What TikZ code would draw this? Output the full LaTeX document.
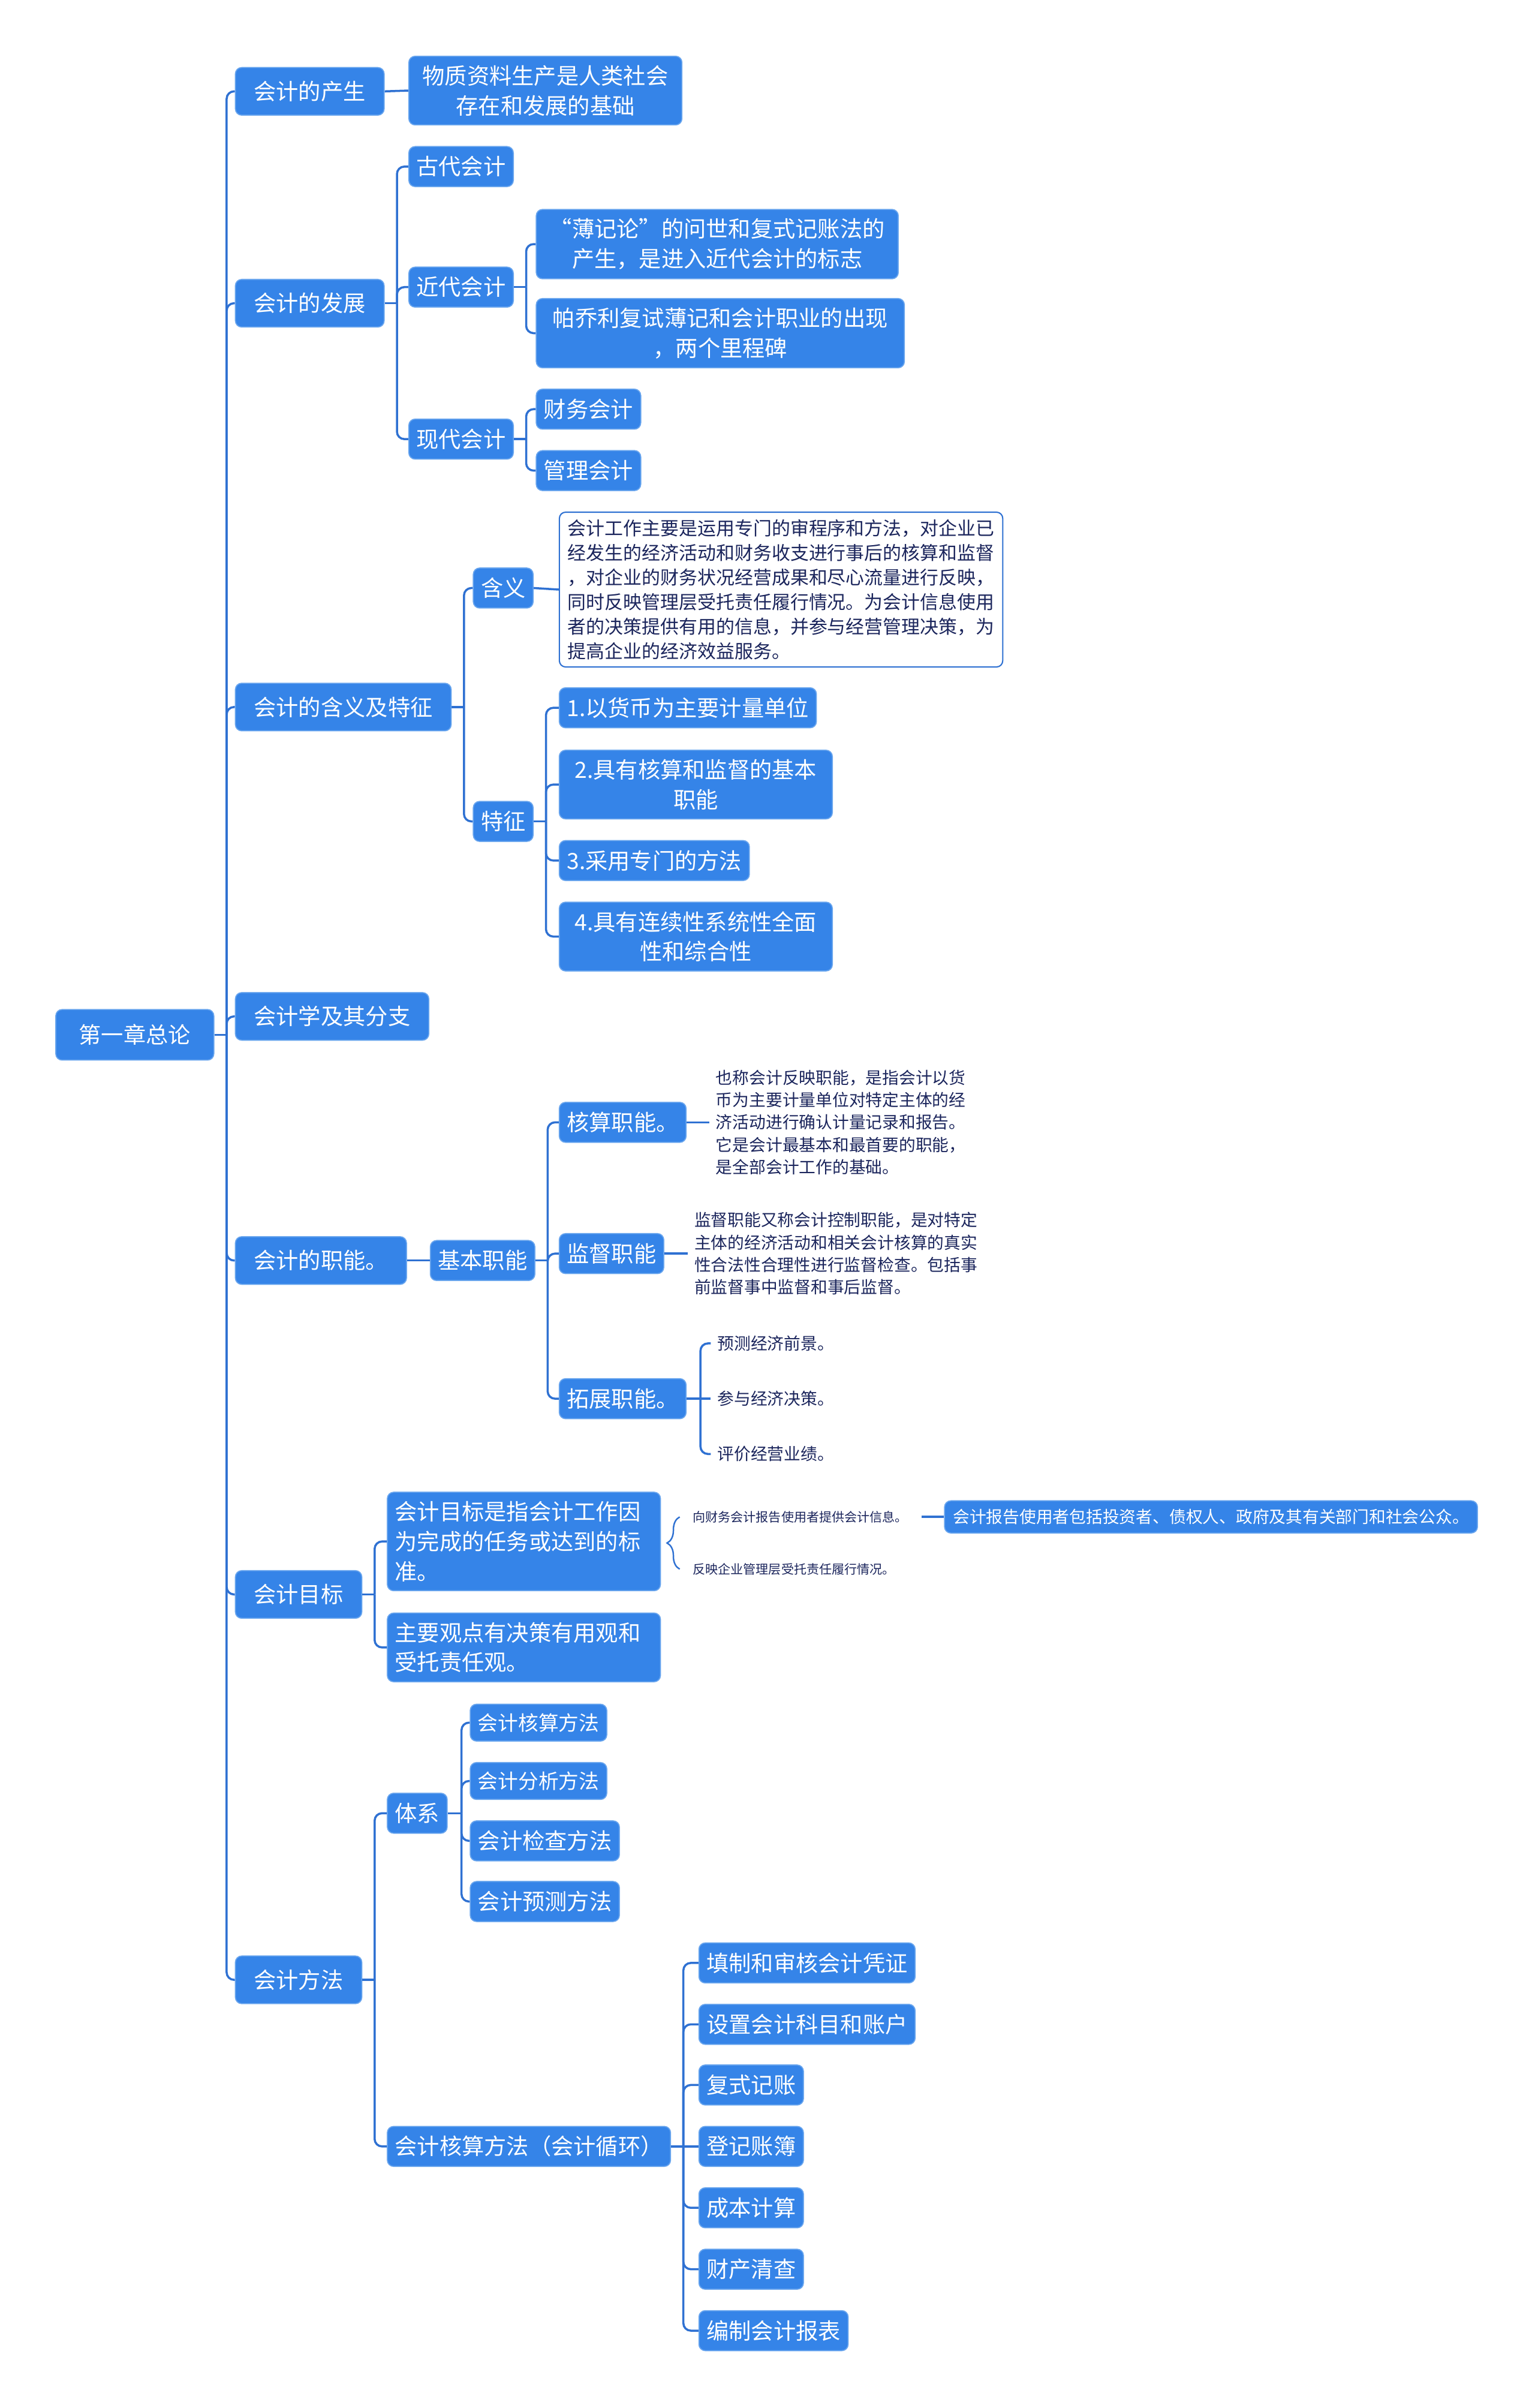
\documentclass[tikz,border=0pt]{standalone}
\usepackage{fontspec}
\setmainfont{Noto Sans CJK SC}
\usepackage{xcolor}
\usetikzlibrary{positioning,calc,decorations.pathreplacing}

\definecolor{boxblue}{HTML}{3584E8}
\definecolor{rimblue}{HTML}{6AA6EE}
\definecolor{linkblue}{HTML}{2F71D2}
\definecolor{inkblue}{HTML}{1B255C}

\begin{document}
\begin{tikzpicture}[
    x=0.256mm, y=-0.256mm,
    box/.style={
        draw=rimblue, line width=0.5pt, fill=boxblue, rounded corners=3pt,
        text=white, anchor=west, align=center, inner ysep=4.3pt,
        font=\fontsize{10.6}{14.2}\selectfont
    },
    root/.style={box, inner xsep=11pt, minimum height=24pt},
    topic/.style={box, inner xsep=8.8pt, minimum height=22.6pt},
    leaf/.style={box, inner xsep=3.6pt, minimum height=19pt},
    smallleaf/.style={leaf, minimum height=17.5pt, font=\fontsize{9.6}{12}\selectfont},
    report/.style={box, inner xsep=4pt, inner ysep=2pt, minimum height=15.3pt,
        font=\fontsize{7.9}{10}\selectfont},
    memo/.style={
        draw=linkblue, line width=0.6pt, fill=white, rounded corners=3pt,
        text=inkblue, anchor=west, align=left, inner xsep=4pt, inner ysep=3.5pt,
        font=\fontsize{8.8}{11.65}\selectfont
    },
    note/.style={
        anchor=west, inner xsep=3pt, inner ysep=1pt, text=inkblue, align=left,
        font=\fontsize{7.9}{10.6}\selectfont
    },
    tiny/.style={note, inner xsep=1.5pt, font=\fontsize{6}{7.5}\selectfont},
    link/.style={draw=linkblue, line width=1pt, rounded corners=3.5pt},
    curly/.style={draw=linkblue, line width=0.7pt, decorate,
        decoration={brace, amplitude=6pt}}
]
\useasboundingbox (0,0) rectangle (1000,1568.4);

% 根节点
\node[root] (zonglun) at (36,674) {第一章总论};

% 一级分支
\node[topic] (chansheng) at (153,59.5)   {会计的产生};
\node[topic] (fazhan)    at (153,197.5)  {会计的发展};
\node[topic] (hanyitz)   at (153,460.5)  {会计的含义及特征};
\node[topic] (fenzhi)    at (153,662)    {会计学及其分支};
\node[topic] (zhineng)   at (153,821)    {会计的职能。};
\node[topic] (mubiao)    at (153,1038.5) {会计目标};
\node[topic] (fangfa)    at (153,1289.5) {会计方法};

% 会计的产生
\node[leaf, text width=122.4pt] (jichu) at (266,59) {物质资料生产是人类社会\\存在和发展的基础};

% 会计的发展
\node[leaf] (gudai)   at (266,108.5) {古代会计};
\node[leaf] (jindai)  at (266,187)   {近代会计};
\node[leaf] (xiandai) at (266,286)   {现代会计};
\node[leaf, text width=164.6pt] (bujilun) at (349,159) {“薄记论”的问世和复式记账法的\\产生，是进入近代会计的标志};
\node[leaf, text width=167.5pt] (paqiaoli) at (349,217) {帕乔利复试薄记和会计职业的出现\\，两个里程碑};
\node[leaf] (caiwu)  at (349,266.5) {财务会计};
\node[leaf] (guanli) at (349,306.5) {管理会计};

% 会计的含义及特征
\node[leaf] (hanyi)   at (308,383) {含义};
\node[leaf] (tezheng) at (308,535) {特征};
\node[memo] (hanyitext) at (364,384) {会计工作主要是运用专门的审程序和方法，对企业已\\经发生的经济活动和财务收支进行事后的核算和监督\\，对企业的财务状况经营成果和尽心流量进行反映，\\同时反映管理层受托责任履行情况。为会计信息使用\\者的决策提供有用的信息，并参与经营管理决策，为\\提高企业的经济效益服务。};
\node[leaf] (tz1) at (364,461) {1.以货币为主要计量单位};
\node[leaf, text width=122.4pt] (tz2) at (364,511) {2.具有核算和监督的基本\\职能};
\node[leaf] (tz3) at (364,560.5) {3.采用专门的方法};
\node[leaf, text width=122.4pt] (tz4) at (364,610) {4.具有连续性系统性全面\\性和综合性};

% 会计的职能
\node[leaf] (jiben)   at (280,821)   {基本职能};
\node[leaf] (hesuan)  at (364,731)   {核算职能。};
\node[leaf] (jiandu)  at (364,816.5) {监督职能};
\node[leaf] (tuozhan) at (364,911)   {拓展职能。};
\node[note] (hesuantext) at (462,731) {也称会计反映职能，是指会计以货\\币为主要计量单位对特定主体的经\\济活动进行确认计量记录和报告。\\它是会计最基本和最首要的职能，\\是全部会计工作的基础。};
\node[note] (jiandutext) at (448,816.5) {监督职能又称会计控制职能，是对特定\\主体的经济活动和相关会计核算的真实\\性合法性合理性进行监督检查。包括事\\前监督事中监督和事后监督。};
\node[note] (yuce)    at (463,875) {预测经济前景。};
\node[note] (juece)   at (463,911) {参与经济决策。};
\node[note] (pingjia) at (463,947) {评价经营业绩。};

% 会计目标
\node[leaf, align=left, text width=122.4pt] (mubiaodef) at (252,1004) {会计目标是指会计工作因\\为完成的任务或达到的标\\准。};
\node[leaf, align=left, text width=122.4pt] (guandian) at (252,1073) {主要观点有决策有用观和\\受托责任观。};
\node[tiny] (xinxi)   at (449,988)  {向财务会计报告使用者提供会计信息。};
\node[tiny] (fanying) at (449,1022) {反映企业管理层受托责任履行情况。};
\node[report] (shiyongzhe) at (615,988) {会计报告使用者包括投资者、债权人、政府及其有关部门和社会公众。};

% 会计方法
\node[leaf] (tixi)    at (252,1181)   {体系};
\node[leaf] (xunhuan) at (252,1398)   {会计核算方法（会计循环）};
\node[smallleaf] (hsff) at (306,1122) {会计核算方法};
\node[smallleaf] (fxff) at (306,1160) {会计分析方法};
\node[leaf] (jcff) at (306,1199)      {会计检查方法};
\node[leaf] (ycff) at (306,1238.5)    {会计预测方法};
\node[leaf] (pingzheng) at (455,1278.5) {填制和审核会计凭证};
\node[leaf] (zhanghu)   at (455,1318.5) {设置会计科目和账户};
\node[leaf] (jizhang)   at (455,1358)   {复式记账};
\node[leaf] (zhangbu)   at (455,1398)   {登记账簿};
\node[leaf] (chengben)  at (455,1438)   {成本计算};
\node[leaf] (qingcha)   at (455,1478)   {财产清查};
\node[leaf] (baobiao)   at (455,1518)   {编制会计报表};

% 连接线：主干
\draw[link] (zonglun.east) -- ++(8,0) coordinate (trunk);
\draw[link] (chansheng.west) -| (trunk);
\draw[link] (fazhan.west) -| (trunk);
\draw[link] (hanyitz.west) -| (trunk);
\draw[link] (fenzhi.west) -| (trunk);
\draw[link] (zhineng.west) -| (trunk);
\draw[link] (mubiao.west) -| (trunk);
\draw[link] (fangfa.west) -| (trunk);

% 连接线：会计的产生、发展
\draw[link] (chansheng.east) -- (jichu.west);
\draw[link] (fazhan.east) -- ++(8,0) coordinate (fz);
\draw[link] (gudai.west) -| (fz);
\draw[link] (jindai.west) -| (fz);
\draw[link] (xiandai.west) -| (fz);
\draw[link] (jindai.east) -- ++(8,0) coordinate (jd);
\draw[link] (bujilun.west) -| (jd);
\draw[link] (paqiaoli.west) -| (jd);
\draw[link] (xiandai.east) -- ++(8,0) coordinate (xd);
\draw[link] (caiwu.west) -| (xd);
\draw[link] (guanli.west) -| (xd);

% 连接线：含义及特征
\draw[link] (hanyitz.east) -- ++(8,0) coordinate (ht);
\draw[link] (hanyi.west) -| (ht);
\draw[link] (tezheng.west) -| (ht);
\draw[link] (hanyi.east) -- (hanyitext.west);
\draw[link] (tezheng.east) -- ++(8,0) coordinate (tz);
\draw[link] (tz1.west) -| (tz);
\draw[link] (tz2.west) -| (tz);
\draw[link] (tz3.west) -| (tz);
\draw[link] (tz4.west) -| (tz);

% 连接线：职能
\draw[link] (zhineng.east) -- (jiben.west);
\draw[link] (jiben.east) -- ++(8,0) coordinate (jb);
\draw[link] (hesuan.west) -| (jb);
\draw[link] (jiandu.west) -| (jb);
\draw[link] (tuozhan.west) -| (jb);
\draw[link] (hesuan.east) -- (hesuantext.west);
\draw[link] (jiandu.east) -- (jiandutext.west);
\draw[link] (tuozhan.east) -- ++(9,0) coordinate (tzh);
\draw[link] (yuce.west) -| (tzh);
\draw[link] (tuozhan.east) -- (juece.west);
\draw[link] (pingjia.west) -| (tzh);

% 连接线：目标
\draw[link] (mubiao.east) -- ++(8,0) coordinate (mb);
\draw[link] (mubiaodef.west) -| (mb);
\draw[link] (guandian.west) -| (mb);
\draw[curly] ([xshift=-4.5pt]fanying.west) -- ([xshift=-4.5pt]xinxi.west);
\draw[link, shorten <=5pt] (xinxi.east) -- (shiyongzhe.west);

% 连接线：方法
\draw[link] (fangfa.east) -- ++(8,0) coordinate (ff);
\draw[link] (tixi.west) -| (ff);
\draw[link] (xunhuan.west) -| (ff);
\draw[link] (tixi.east) -- ++(9,0) coordinate (tx);
\draw[link] (hsff.west) -| (tx);
\draw[link] (fxff.west) -| (tx);
\draw[link] (jcff.west) -| (tx);
\draw[link] (ycff.west) -| (tx);
\draw[link] (xunhuan.east) -- ++(8,0) coordinate (xh);
\draw[link] (pingzheng.west) -| (xh);
\draw[link] (zhanghu.west) -| (xh);
\draw[link] (jizhang.west) -| (xh);
\draw[link] (xunhuan.east) -- (zhangbu.west);
\draw[link] (chengben.west) -| (xh);
\draw[link] (qingcha.west) -| (xh);
\draw[link] (baobiao.west) -| (xh);

\end{tikzpicture}
\end{document}
